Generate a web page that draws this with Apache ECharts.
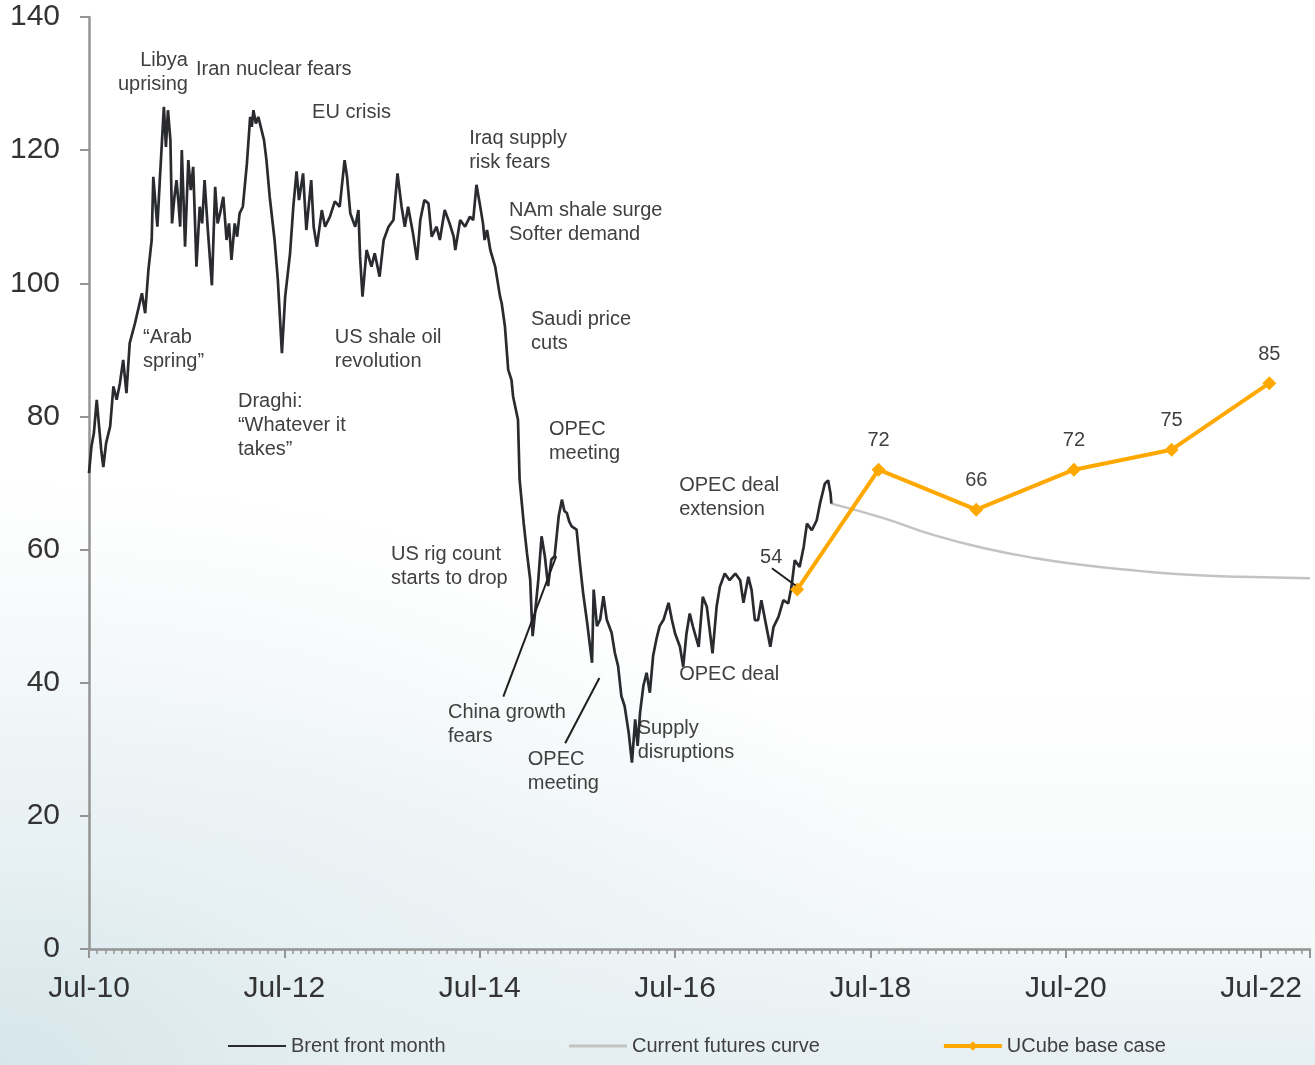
<!DOCTYPE html>
<html>
<head>
<meta charset="utf-8">
<title>Brent oil price outlook</title>
<script src="https://cdn.jsdelivr.net/npm/echarts@6/dist/echarts.min.js"></script>
<style>
  html, body { margin: 0; padding: 0; width: 1315px; height: 1065px; overflow: hidden; }
  body {
    background:
      radial-gradient(ellipse 75% 55% at 0% 100%, rgba(214,230,234,1) 0%, rgba(228,238,241,0.85) 35%, rgba(255,255,255,0) 100%),
      linear-gradient(to top, #e6eff2 0%, #f4f8f9 12%, #ffffff 35%);
  }
  #chart { width: 1315px; height: 1065px; }
</style>
</head>
<body>
<div id="chart"></div>
<script>
// Months counted from Jul-2010 (0 = Jul-10)
const tickMonths = [0, 24, 48, 72, 96, 120, 144];
const tickLabels = ['Jul-10', 'Jul-12', 'Jul-14', 'Jul-16', 'Jul-18', 'Jul-20', 'Jul-22'];

// Brent front month, USD/bbl  [month, price]
const brentFrontMonth = [
  [0.0, 71.5], [0.3, 75.5], [0.6, 77.5], [0.95, 82.5], [1.2, 79], [1.5, 75], [1.76, 72.4], [2.1, 76],
  [2.6, 78.5], [3.0, 84.5], [3.4, 82.5], [3.8, 85], [4.2, 88.5], [4.6, 83.5], [5.0, 91], [5.65, 94],
  [6.5, 98.5], [6.9, 95.5], [7.3, 102], [7.7, 106.5], [7.9, 116], [8.1, 113], [8.4, 108.5], [8.7, 115.5],
  [8.95, 121], [9.2, 126.5], [9.45, 120.5], [9.7, 126], [10.0, 121.5], [10.2, 109], [10.5, 113], [10.75, 115.5],
  [11.0, 112], [11.2, 108.5], [11.4, 120], [11.6, 113], [11.8, 105.5], [12.0, 112], [12.2, 118.5], [12.5, 114],
  [12.8, 117.5], [13.0, 110], [13.2, 102.5], [13.6, 111.5], [13.9, 109], [14.2, 115.5], [14.6, 108], [15.1, 99.7],
  [15.5, 114.5], [15.8, 109], [16.1, 110.5], [16.5, 113], [16.9, 106.5], [17.2, 109], [17.5, 103.5], [17.9, 109],
  [18.2, 107], [18.5, 110.5], [18.9, 111.5], [19.4, 118], [19.8, 125], [20.0, 123.5], [20.2, 126], [20.5, 124],
  [20.8, 125], [21.2, 123], [21.5, 121.5], [21.8, 118.5], [22.2, 113], [22.8, 106.5], [23.2, 100.5],
  [23.7, 89.5], [24.1, 98], [24.7, 104.5], [25.1, 111.5], [25.5, 116.8], [25.8, 112.5], [26.3, 116.5], [26.7, 108],
  [27.3, 115.5], [27.6, 108.5], [28.0, 105.5], [28.6, 111], [29.0, 108.5], [29.6, 110], [30.2, 112.3], [30.8, 111.5],
  [31.4, 118.5], [31.7, 116], [32.1, 110.5], [32.7, 108.5], [33.1, 111], [33.3, 104], [33.6, 98], [34.1, 105],
  [34.7, 102.5], [35.1, 104.5], [35.7, 101], [36.2, 106.5], [36.8, 108.5], [37.4, 109.5], [37.9, 116.5], [38.4, 111.5],
  [38.8, 108.5], [39.2, 111.5], [39.8, 107.5], [40.3, 103.5], [40.7, 109.5], [41.2, 112.5], [41.7, 112], [42.1, 107],
  [42.7, 108.5], [43.1, 106.5], [43.7, 111], [44.3, 109], [44.8, 107], [45.0, 105], [45.6, 109.5], [46.2, 108.5],
  [46.8, 110], [47.2, 109.5], [47.6, 114.8], [48.0, 112], [48.4, 109], [48.6, 106.5], [48.9, 108], [49.3, 105],
  [49.9, 102.5], [50.5, 98], [50.7, 97], [51.1, 93.5], [51.5, 87], [51.9, 85.5], [52.1, 83], [52.7, 79.5],
  [52.9, 70.5], [53.4, 64], [53.8, 59.5], [54.2, 55.5], [54.4, 49.5], [54.5, 47], [54.8, 50.5], [55.2, 55.5],
  [55.6, 62], [56.0, 59], [56.4, 54.5], [56.8, 58.5], [57.2, 59], [57.7, 65], [58.1, 67.5], [58.4, 65.8],
  [58.7, 65.5], [59.0, 64.2], [59.3, 63.5], [59.9, 63], [60.3, 58], [60.7, 53.5], [61.2, 49], [61.8, 43], [62.0, 54],
  [62.4, 48.5], [62.8, 49.5], [63.2, 53], [63.6, 49.5], [64.2, 47.5], [64.6, 44.5], [65.0, 42.5], [65.4, 38], [65.8, 36.5],
  [66.3, 32.5], [66.7, 28], [67.1, 34.5], [67.4, 30.5], [67.7, 35.5], [68.1, 39.5], [68.5, 41.5], [68.9, 38.5],
  [69.3, 44], [69.7, 46.5], [70.1, 48.5], [70.6, 49.5], [71.2, 52], [71.6, 49.5], [72.0, 47.4], [72.6, 45.4],
  [73.0, 42.4], [73.4, 47.4], [73.8, 50.4], [74.2, 48.4], [74.9, 45.4], [75.4, 52.9], [75.9, 51.4], [76.3, 47.4],
  [76.6, 44.4], [77.1, 51.4], [77.5, 54.4], [78.1, 56.4], [78.7, 55.4], [79.4, 56.4], [80.0, 55.4], [80.4, 52],
  [81.0, 55.9], [81.4, 53.9], [81.8, 49.4], [82.2, 49.4], [82.6, 52.4], [83.3, 47.9], [83.7, 45.4], [84.1, 48.4],
  [84.7, 49.9], [85.3, 52.4], [85.9, 51.9], [86.3, 54.4], [86.7, 58.4], [87.3, 57.4], [87.8, 60.4], [88.2, 63.9],
  [88.8, 62.9], [89.4, 64.4], [89.8, 66.9], [90.4, 69.9], [90.8, 70.4], [91.1, 68.4], [91.2, 66.9]
];

// Current futures curve  [month, price]
const futuresCurve = [
  [91.2, 66.9], [97.4, 64.8], [103.7, 62.2], [110.0, 60.2], [116.3, 58.7],
  [122.6, 57.6], [128.9, 56.8], [135.1, 56.2], [141.4, 55.9], [150.0, 55.7]
];

// UCube base case  [month, price]
const ucubeBaseCase = [[87, 54], [97, 72], [109, 66], [121, 72], [133, 75], [145, 85]];

// Event annotations: [month, price] of the text block's anchor, text, alignment
const annotations = [
  [12.16, 135.3, 'Libya\nuprising', 'right'],
  [13.14, 133.9, 'Iran nuclear fears', 'left'],
  [27.4, 127.5, 'EU crisis', 'left'],
  [46.7, 123.5, 'Iraq supply\nrisk fears', 'left'],
  [51.6, 112.8, 'NAm shale surge\nSofter demand', 'left'],
  [6.63, 93.7, '\u201cArab\nspring\u201d', 'left'],
  [30.2, 93.7, 'US shale oil\nrevolution', 'left'],
  [54.3, 96.3, 'Saudi price\ncuts', 'left'],
  [18.3, 84.1, 'Draghi:\n\u201cWhatever it\ntakes\u201d', 'left'],
  [56.5, 79.8, 'OPEC\nmeeting', 'left'],
  [72.5, 71.5, 'OPEC deal\nextension', 'left'],
  [37.1, 61.1, 'US rig count\nstarts to drop', 'left'],
  [72.5, 43.1, 'OPEC deal', 'left'],
  [44.1, 37.3, 'China growth\nfears', 'left'],
  [67.4, 35.0, 'Supply\ndisruptions', 'left'],
  [53.9, 30.2, 'OPEC\nmeeting', 'left']
];

// Leader lines from annotations to the price line: [[m1, p1], [m2, p2]]
const leaderLines = [
  [[50.9, 37.9], [57.4, 59.0]],
  [[58.5, 30.9], [62.7, 40.7]],
  [[83.9, 57.2], [86.8, 54.6]]
];

const FONT = "'Liberation Sans', Arial, Helvetica, sans-serif";
const TEXT = '#404040';
const AXIS = '#949494';
const GRID = { left: 89, right: 5, top: 17, bottom: 116 };

const chart = echarts.init(document.getElementById('chart'), null, { renderer: 'canvas' });

chart.setOption({
  backgroundColor: 'transparent',
  animation: false,
  textStyle: { fontFamily: FONT },
  grid: [
    Object.assign({ containLabel: false, outerBoundsMode: 'none' }, GRID),
    Object.assign({ containLabel: false, outerBoundsMode: 'none' }, GRID)
  ],
  legend: {
    left: 222,
    top: 1031,
    itemWidth: 58,
    itemHeight: 12,
    itemGap: 122,
    textStyle: { fontSize: 20, color: TEXT, fontFamily: FONT },
    data: [
      { name: 'Brent front month', itemStyle: { opacity: 0 } },
      { name: 'Current futures curve', itemStyle: { opacity: 0 }, lineStyle: { width: 3 } },
      { name: 'UCube base case', lineStyle: { width: 4 } }
    ]
  },
  xAxis: [
    {
      type: 'value', gridIndex: 0, min: 0, max: 150, interval: 24,
      axisLine: { show: true, lineStyle: { color: AXIS, width: 2.5 } },
      axisTick: { show: true, length: 9, lineStyle: { color: AXIS, width: 2 } },
      axisLabel: {
        margin: 25, fontSize: 30, color: '#333', fontFamily: FONT,
        formatter: v => { const i = tickMonths.indexOf(v); return i >= 0 ? tickLabels[i] : ''; }
      },
      splitLine: { show: false }
    },
    {
      // monthly minor ticks
      type: 'value', gridIndex: 1, min: 0, max: 150, interval: 1,
      axisLine: { show: false },
      axisTick: { show: true, length: 5, lineStyle: { color: AXIS, width: 1.5 } },
      axisLabel: { show: false },
      splitLine: { show: false }
    }
  ],
  yAxis: [
    {
      type: 'value', gridIndex: 0, min: 0, max: 140, interval: 20,
      axisLine: { show: true, lineStyle: { color: AXIS, width: 2.5 } },
      axisTick: { show: true, length: 9, lineStyle: { color: AXIS, width: 2 } },
      axisLabel: { margin: 29, fontSize: 30, color: '#333', fontFamily: FONT },
      splitLine: { show: false }
    },
    {
      type: 'value', gridIndex: 1, min: 0, max: 140, show: false
    }
  ],
  series: [
    {
      name: 'Brent front month',
      type: 'line',
      xAxisIndex: 0, yAxisIndex: 0,
      data: brentFrontMonth,
      showSymbol: false,
      symbol: 'none',
      lineStyle: { color: '#2a2b2f', width: 2.7 },
      itemStyle: { color: '#2a2b2f' },
      z: 3,
      markLine: {
        silent: true,
        symbol: 'none',
        label: { show: false },
        lineStyle: { color: '#1f1f1f', width: 2, type: 'solid' },
        data: leaderLines.map(l => [{ coord: l[0] }, { coord: l[1] }])
      }
    },
    {
      name: 'Current futures curve',
      type: 'line',
      xAxisIndex: 0, yAxisIndex: 0,
      data: futuresCurve,
      smooth: true,
      showSymbol: false,
      symbol: 'none',
      lineStyle: { color: '#c3c3c3', width: 2.5 },
      itemStyle: { color: '#c3c3c3' },
      z: 2
    },
    {
      name: 'UCube base case',
      type: 'line',
      xAxisIndex: 0, yAxisIndex: 0,
      data: ucubeBaseCase.map((d, i) => i === 0
        ? { value: d, label: { offset: [-26, -3] } }
        : { value: d }),
      symbol: 'diamond',
      symbolSize: 14,
      lineStyle: { color: '#FFA800', width: 4 },
      itemStyle: { color: '#FFA800' },
      label: {
        show: true, position: 'top', distance: 12,
        fontSize: 20, color: TEXT, fontFamily: FONT,
        formatter: p => String(p.value[1])
      },
      z: 4
    }
  ]
});

// Event annotations placed in data space
chart.setOption({
  graphic: annotations.map(a => {
    const pt = chart.convertToPixel({ gridIndex: 0 }, [a[0], a[1]]);
    return {
      type: 'text',
      x: pt[0], y: pt[1],
      silent: true,
      style: {
        text: a[2],
        fill: TEXT,
        font: '20px ' + FONT,
        lineHeight: 24,
        align: a[3],
        verticalAlign: 'top'
      }
    };
  })
});
</script>
</body>
</html>
